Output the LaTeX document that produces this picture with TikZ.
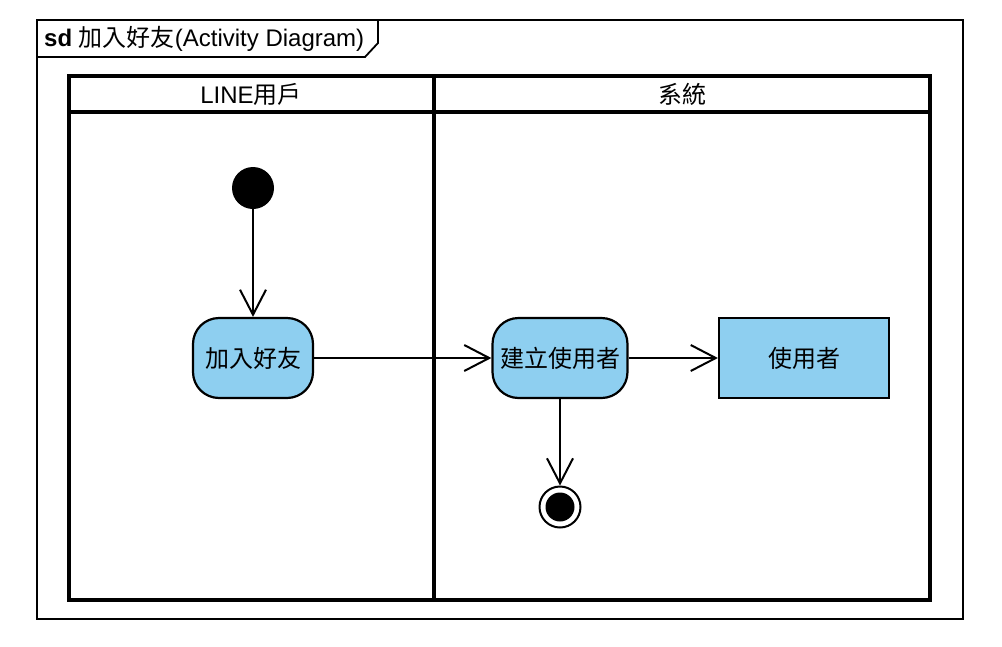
\documentclass[tikz,border=0pt]{standalone}
\usepackage{fontspec}
\setmainfont{Liberation Sans}
\newfontfamily\cjk{Noto Sans CJK TC}
\usetikzlibrary{arrows.meta}
\definecolor{actblue}{RGB}{142,207,240}
\begin{document}
\begin{tikzpicture}[x=1pt,y=-1pt,
  every node/.style={font=\fontsize{24pt}{28pt}\selectfont},
  act/.style={draw, line width=2.2pt, fill=actblue, rounded corners=26pt, minimum height=80pt, inner sep=0pt},
  objbox/.style={draw, line width=2.2pt, fill=actblue, minimum height=80pt, inner sep=0pt},
  startdot/.style={circle, fill=black, minimum size=42pt, inner sep=0pt},
  endring/.style={circle, draw, line width=2pt, fill=white, minimum size=41pt, inner sep=0pt},
  enddot/.style={circle, fill=black, minimum size=29pt, inner sep=0pt},
  flow/.style={line width=2pt, -{Straight Barb[length=25pt,width=26pt,line width=2pt]}},
  lane/.style={line width=4pt},
  label/.style={inner sep=0pt}
]
\useasboundingbox (0,0) rectangle (1002,646);
\fill[white] (0,0) rectangle (1002,646);
% outer frame
\draw[line width=1.8pt] (37,20) rectangle (963,619);
\draw[line width=1.8pt] (37,57) -- (365,57) -- (378,43) -- (378,20);
\node[label, anchor=west] (title) at (44,39) {\textbf{sd} {\cjk 加入好友}(Activity Diagram)};
% swimlanes
\draw[lane] (69,76) rectangle (930,600);
\draw[lane] (69,112) -- (930,112);
% nodes
\node[startdot] (s) at (253,188) {};
\node[act, minimum width=120pt] (a1) at (253,358) {\cjk 加入好友};
\node[act, minimum width=135pt] (a2) at (560,358) {\cjk 建立使用者};
\node[objbox, minimum width=170pt] (o) at (804,358) {\cjk 使用者};
\node[endring] (e) at (560,507) {};
\node[enddot] (ei) at (e) {};
% connectors
\draw[flow] (s) -- (a1);
\draw[flow] (a1) -- (a2);
\draw[flow] (a2) -- (o);
\draw[flow] (a2) -- (e);
% lane divider on top
\draw[lane] (434,76) -- (434,600);
\node[label] (h1) at (251,94) {LINE{\cjk 用戶}};
\node[label] (h2) at (682,94) {\cjk 系統};
\end{tikzpicture}
\end{document}
